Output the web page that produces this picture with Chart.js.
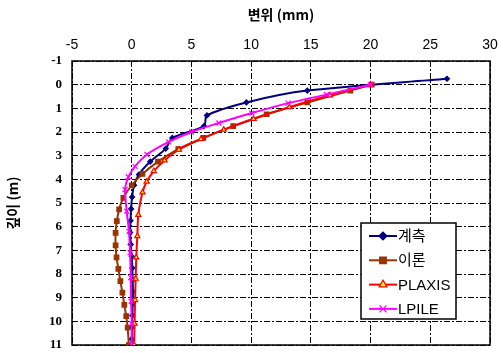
<!DOCTYPE html>
<html>
<head>
<meta charset="utf-8">
<script src="https://cdn.jsdelivr.net/npm/chart.js@4/dist/chart.umd.min.js"></script>
<style>
html,body{margin:0;padding:0;background:#fff;}
#wrap{width:503px;height:353px;position:relative;}
</style>
</head>
<body>
<div id="wrap"><canvas id="c" width="503" height="353"></canvas></div>
<script>
// ---- data (displacement mm vs depth m) ----
const seriesNames = ['계측', '이론', 'PLAXIS', 'LPILE'];
const xTicks = [-5, 0, 5, 10, 15, 20, 25, 30];
const yTicks = [-1, 0, 1, 2, 3, 4, 5, 6, 7, 8, 9, 10, 11];

const depthMeasured = [-0.25, 0.25, 0.75, 1.3, 1.75, 2.25, 2.7, 3.25, 3.8, 4.25, 4.75, 5.25, 5.75, 6.25, 6.75, 7.25, 7.75, 8.25, 8.75, 9.25, 9.75, 10.25, 10.75, 11];
const measured      = [26.4, 14.7, 9.6, 6.3, 6.05, 3.4, 2.85, 1.55, 0.6, 0.2, 0.03, -0.05, -0.1, -0.13, -0.08, 0.0, 0.05, 0.08, 0.1, 0.08, 0.05, 0.03, 0.0, 0.0];

const depthTheory = [0, 0.25, 0.75, 1.25, 1.75, 2.25, 2.72, 3.25, 3.77, 4.25, 4.78, 5.27, 5.77, 6.26, 6.79, 7.3, 7.78, 8.3, 8.79, 9.3, 9.78, 10.27, 11];
const theory      = [20.1, 18.3, 14.7, 11.3, 8.5, 6.0, 3.9, 2.2, 0.9, 0.0, -0.7, -1.05, -1.25, -1.35, -1.35, -1.27, -1.12, -0.95, -0.78, -0.62, -0.46, -0.34, -0.24];

const depthPlaxis = [0, 0.45, 0.95, 1.45, 1.9, 2.3, 2.75, 3.2, 3.65, 4.1, 4.55, 5.5, 6.4, 7.3, 8.2, 9.1, 10.1, 11];
const plaxis      = [20.0, 16.6, 13.2, 10.2, 7.7, 5.8, 3.95, 2.75, 1.85, 1.25, 0.9, 0.55, 0.47, 0.38, 0.33, 0.28, 0.24, 0.2];

const depthLpile = [0, 0.42, 0.78, 1.2, 1.62, 2.0, 2.42, 2.95, 3.45, 3.9, 4.43, 5.35, 6.2, 7.1, 8.15, 9.15, 10.1, 11];
const lpile      = [20.0, 16.3, 13.1, 10.05, 7.3, 5.0, 3.1, 1.28, 0.28, -0.28, -0.56, -0.42, -0.23, -0.14, -0.08, -0.05, 0.0, 0.0];

function pts(xs, ys){ return xs.map((v,i)=>({x:v, y:ys[i]})); }

const styles = [
  {color:'#000080', fill:'#000080', pointStyle:'rectRot', radius:2.5, order:4},
  {color:'#993300', fill:'#993300', pointStyle:'rect', radius:3.2, order:3},
  {color:'#FF0000', fill:'#FFFF00', pointStyle:'triangle', radius:3, order:2},
  {color:'#FF00FF', fill:'#FF00FF', pointStyle:'crossRot', radius:3.5, order:1}
];
const seriesData = [pts(measured, depthMeasured), pts(theory, depthTheory), pts(plaxis, depthPlaxis), pts(lpile, depthLpile)];

const datasets = seriesNames.map((n,i)=>({
  label:n,
  data:seriesData[i],
  showLine:true,
  borderColor:styles[i].color,
  backgroundColor:styles[i].fill,
  pointBorderColor:styles[i].color,
  pointBackgroundColor:styles[i].fill,
  pointStyle:styles[i].pointStyle,
  pointRadius:styles[i].radius,
  pointBorderWidth:1.2,
  borderWidth:2,
  tension:0.3,
  order:styles[i].order
}));

const framePlugin = {
  id:'frame',
  beforeDatasetsDraw(chart){
    const {ctx, chartArea:a} = chart;
    ctx.save();
    ctx.strokeStyle='#000';
    ctx.lineWidth=1.5;
    ctx.setLineDash([]);
    ctx.strokeRect(a.left, a.top, a.right-a.left, a.bottom-a.top);
    ctx.restore();
  },
  afterDraw(chart){
    const ctx = chart.ctx;
    const bx=361, by=223, bw=95, bh=96;
    ctx.save();
    ctx.fillStyle='#fff';
    ctx.fillRect(bx,by,bw,bh);
    ctx.strokeStyle='#000';
    ctx.lineWidth=1.5;
    ctx.setLineDash([]);
    ctx.strokeRect(bx,by,bw,bh);
    chart.data.datasets.forEach((ds,i)=>{
      const y = by + 13 + i*24.3;
      ctx.strokeStyle=ds.borderColor;
      ctx.lineWidth=2;
      ctx.beginPath(); ctx.moveTo(369,y); ctx.lineTo(397,y); ctx.stroke();
      ctx.fillStyle=ds.pointBackgroundColor;
      ctx.strokeStyle=ds.pointBorderColor;
      ctx.lineWidth=1.2;
      Chart.helpers.drawPoint(ctx,{pointStyle:ds.pointStyle, radius:ds.pointRadius+1.5, rotation:0, borderWidth:1.2}, 383, y);
      ctx.fillStyle='#000';
      ctx.font='15px "Liberation Sans", "Noto Sans CJK KR", sans-serif';
      ctx.textBaseline='middle';
      ctx.textAlign='left';
      ctx.fillText(ds.label, 398, y+1);
    });
    ctx.restore();
  }
};

function zeroPad(s){ s.paddingTop=0; s.paddingBottom=0; s.paddingLeft=0; s.paddingRight=0; }

new Chart(document.getElementById('c'), {
  type:'scatter',
  data:{datasets},
  options:{
    responsive:false,
    animation:false,
    devicePixelRatio:1,
    layout:{padding:{left:0, right:13, top:0, bottom:8}},
    plugins:{legend:{display:false}, tooltip:{enabled:false}},
    scales:{
      x:{
        type:'linear', position:'top', min:-5, max:30,
        afterBuildTicks(s){ s.ticks = xTicks.map(v=>({value:v})); },
        afterFit(s){ s.height = 61; zeroPad(s); },
        grid:{color:'#000', lineWidth:1, drawTicks:false},
        border:{display:false, dash:[6,2,2,2]},
        ticks:{color:'#000', padding:7, font:{family:'"Liberation Sans", Arial, sans-serif', size:14}},
        title:{display:true, text:'변위 (mm)', color:'#000', padding:{top:6, bottom:0}, font:{family:'"Noto Sans CJK KR", sans-serif', size:14, weight:'bold'}}
      },
      y:{
        type:'linear', reverse:true, min:-1, max:11,
        afterBuildTicks(s){ s.ticks = yTicks.map(v=>({value:v})); },
        afterFit(s){ s.width = 72; zeroPad(s); },
        grid:{color:'#000', lineWidth:1, drawTicks:false},
        border:{display:false, dash:[6,2,2,2]},
        ticks:{color:'#000', padding:10, font:{family:'"Liberation Serif", "Times New Roman", serif', size:13, weight:'bold'}},
        title:{display:true, text:'깊이 (m)', color:'#000', padding:{top:4, bottom:0}, font:{family:'"Noto Sans CJK KR", sans-serif', size:14, weight:'bold'}}
      }
    }
  },
  plugins:[framePlugin]
});
</script>
</body>
</html>
